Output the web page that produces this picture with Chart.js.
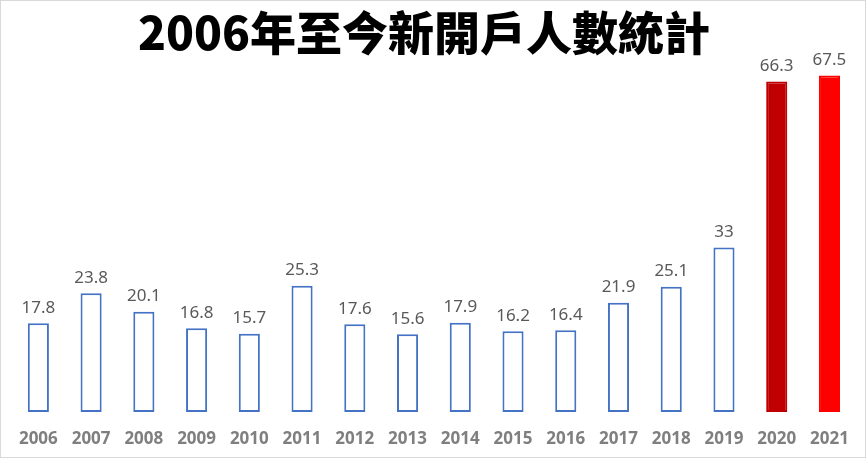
<!DOCTYPE html>
<html>
<head>
<meta charset="utf-8">
<script src="https://cdn.jsdelivr.net/npm/chart.js@4/dist/chart.umd.min.js"></script>
<style>
html,body{margin:0;padding:0;background:#fff;}
#wrap{width:866px;height:458px;position:relative;}
</style>
</head>
<body>
<div id="wrap"><canvas id="c" width="866" height="458"></canvas></div>
<script>
const titleText = '2006年至今新開戶人數統計';
const years = ['2006','2007','2008','2009','2010','2011','2012','2013','2014','2015','2016','2017','2018','2019','2020','2021'];
const accounts = [17.8, 23.8, 20.1, 16.8, 15.7, 25.3, 17.6, 15.6, 17.9, 16.2, 16.4, 21.9, 25.1, 33, 66.3, 67.5];

const blue = '#4472C4';
const fills = years.map((y,i) => i === 14 ? '#C00000' : (i === 15 ? '#FF0000' : '#FFFFFF'));
const strokes = years.map((y,i) => i === 14 ? '#C00000' : (i === 15 ? '#FF0000' : blue));

const valueLabels = {
  id: 'valueLabels',
  afterDatasetsDraw(chart) {
    const ctx = chart.ctx;
    const meta = chart.getDatasetMeta(0);
    ctx.save();
    ctx.font = '17px "Noto Sans", "DejaVu Sans", sans-serif';
    ctx.fillStyle = '#595959';
    ctx.textAlign = 'center';
    ctx.textBaseline = 'bottom';
    meta.data.forEach((bar, i) => {
      ctx.fillText(String(chart.data.datasets[0].data[i]), bar.x, bar.y - 7);
    });
    ctx.restore();
  }
};

const frame = {
  id: 'frame',
  beforeDraw(chart) {
    const ctx = chart.ctx;
    ctx.save();
    ctx.fillStyle = '#fff';
    ctx.fillRect(0, 0, chart.width, chart.height);
    ctx.strokeStyle = '#D9D9D9';
    ctx.lineWidth = 1;
    ctx.strokeRect(0.5, 0.5, chart.width - 1, chart.height - 1);
    ctx.restore();
  }
};

const headline = {
  id: 'headline',
  afterDraw(chart) {
    const ctx = chart.ctx;
    ctx.save();
    ctx.font = '900 46px "Noto Sans CJK TC", "Noto Sans CJK SC", sans-serif';
    ctx.fillStyle = '#000';
    ctx.textAlign = 'center';
    ctx.textBaseline = 'middle';
    ctx.fillText(titleText, 424, 33);
    ctx.restore();
  }
};

new Chart(document.getElementById('c'), {
  type: 'bar',
  data: {
    labels: years,
    datasets: [{
      data: accounts,
      backgroundColor: fills,
      borderColor: strokes,
      borderWidth: 2,
      borderSkipped: false,
      barPercentage: 0.8,
      categoryPercentage: 0.5
    }]
  },
  options: {
    responsive: false,
    animation: false,
    layout: { padding: { left: 12, right: 3, top: 63, bottom: 9 } },
    plugins: {
      legend: { display: false },
      tooltip: { enabled: false },
      title: { display: false }
    },
    scales: {
      y: { display: false, min: 0, max: 70 },
      x: {
        afterFit(scale) { scale.height = 37; },
        grid: { display: false, drawTicks: false },
        border: { display: false },
        ticks: {
          color: '#7F7F7F',
          padding: 17,
          font: { family: '"Noto Sans", "DejaVu Sans", sans-serif', size: 17, weight: 'bold' }
        }
      }
    }
  },
  plugins: [frame, valueLabels, headline]
});
</script>
</body>
</html>
